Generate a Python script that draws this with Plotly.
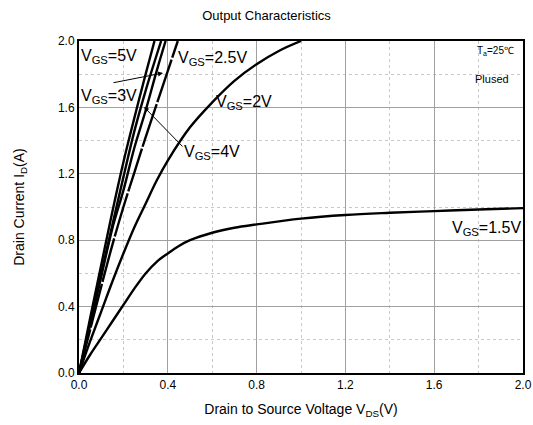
import plotly.graph_objects as go

# Data (VDS in V, ID in A)
v_5 = [0, 0.05, 0.1, 0.15, 0.2, 0.25, 0.3, 0.34]
i_5 = [0, 0.33, 0.65, 0.97, 1.27, 1.54, 1.80, 2.0]

v_4 = [0, 0.05, 0.1, 0.15, 0.2, 0.25, 0.3, 0.37]
i_4 = [0, 0.30, 0.60, 0.89, 1.18, 1.46, 1.70, 2.0]

v_3 = [0, 0.05, 0.1, 0.15, 0.2, 0.25, 0.3, 0.35, 0.39]
i_3 = [0, 0.29, 0.58, 0.87, 1.10, 1.36, 1.58, 1.82, 2.0]

v_25 = [0, 0.05, 0.1, 0.15, 0.2, 0.25, 0.3, 0.35, 0.4, 0.445]
i_25 = [0, 0.26, 0.52, 0.77, 1.0, 1.21, 1.42, 1.62, 1.82, 2.0]

v_2 = [0, 0.05, 0.1, 0.15, 0.2, 0.25, 0.3, 0.35, 0.4, 0.5, 0.6, 0.7, 0.8, 0.9, 1.0]
i_2 = [0, 0.19, 0.37, 0.55, 0.72, 0.88, 1.02, 1.16, 1.28, 1.48, 1.63, 1.76, 1.86, 1.94, 2.0]

v_15 = [0, 0.05, 0.1, 0.15, 0.2, 0.25, 0.3, 0.35, 0.4, 0.45, 0.5, 0.6, 0.7, 0.8, 1.0, 1.2, 1.4, 1.6, 1.8, 2.0]
i_15 = [0, 0.11, 0.21, 0.31, 0.41, 0.51, 0.60, 0.67, 0.72, 0.765, 0.80, 0.845, 0.875, 0.895, 0.93, 0.952, 0.965, 0.975, 0.985, 0.993]

x_ticks = [0.0, 0.4, 0.8, 1.2, 1.6, 2.0]
y_ticks = [0.0, 0.4, 0.8, 1.2, 1.6, 2.0]

FONT = "Arial, Liberation Sans, sans-serif"

fig = go.Figure()
series = [
    (v_5, i_5, "solid"),
    (v_4, i_4, "solid"),
    (v_3, i_3, "solid"),
    (v_25, i_25, "45px,2px"),
    (v_2, i_2, "solid"),
    (v_15, i_15, "solid"),
]
for vx, iy, dash in series:
    fig.add_trace(go.Scatter(x=vx, y=iy, mode="lines",
                             line=dict(color="black", width=2.4, shape="spline", dash=dash),
                             showlegend=False, hoverinfo="skip"))

def px2v(px):
    return (px - 79) / 444.0 * 2

def py2i(py):
    return (373 - py) / 166.0

annots = []
def lab(px, py, text, size=16, xanchor="left"):
    annots.append(dict(x=px2v(px), y=py2i(py), xref="x", yref="y", text=text,
                       showarrow=False, xanchor=xanchor, yanchor="middle",
                       font=dict(family=FONT, size=size, color="black")))

lab(79, 56, "V<sub>GS</sub>=5V")
lab(79, 96, "V<sub>GS</sub>=3V")
lab(176, 58, "V<sub>GS</sub>=2.5V")
lab(214, 102, "V<sub>GS</sub>=2V")
lab(182, 152, "V<sub>GS</sub>=4V")
lab(523, 228, "V<sub>GS</sub>=1.5V", xanchor="right")
lab(516, 51, "T<sub>a</sub>=25℃", size=10, xanchor="right")
lab(511, 79, "Plused", size=11, xanchor="right")

# arrows
for (tx, ty, hx, hy) in [(112, 83, 163, 73), (184, 148, 144, 107)]:
    annots.append(dict(x=px2v(hx), y=py2i(hy), ax=px2v(tx), ay=py2i(ty),
                       xref="x", yref="y", axref="x", ayref="y", text="",
                       showarrow=True, arrowhead=2, arrowsize=1, arrowwidth=1,
                       arrowcolor="black"))

fig.update_layout(
    width=533, height=425,
    margin=dict(l=79, r=10, t=41, b=52, autoexpand=False),
    paper_bgcolor="white", plot_bgcolor="white",
    title=dict(text="Output Characteristics", x=0.5, xanchor="center",
               y=1 - 15 / 425, yanchor="middle",
               font=dict(family=FONT, size=13, color="black")),
    font=dict(family=FONT, color="black"),
    annotations=annots,
)

fig.update_xaxes(
    range=[0, 2], tickvals=x_ticks, ticktext=[f"{t:.1f}" for t in x_ticks],
    automargin=False,
    showgrid=True, gridcolor="#a0a0a0", gridwidth=1,
    minor=dict(dtick=0.2, tick0=0, showgrid=True, gridcolor="#c8c8c8", griddash="dot", gridwidth=1),
    showline=True, linecolor="black", linewidth=2, mirror=True,
    ticks="", zeroline=False,
    tickfont=dict(family=FONT, size=12, color="black"),
    title=dict(text="Drain to Source Voltage V<sub>DS</sub>(V)", standoff=13,
               font=dict(family=FONT, size=14, color="black")),
)
fig.update_yaxes(
    range=[0, 2], tickvals=y_ticks, ticktext=[f"{t:.1f}" for t in y_ticks],
    automargin=False,
    showgrid=True, gridcolor="#a0a0a0", gridwidth=1,
    minor=dict(dtick=0.2, tick0=0, showgrid=True, gridcolor="#c8c8c8", griddash="dot", gridwidth=1),
    showline=True, linecolor="black", linewidth=2, mirror=True,
    ticks="", zeroline=False,
    tickfont=dict(family=FONT, size=12, color="black"),
    title=dict(text="Drain Current I<sub>D</sub>(A)", standoff=30,
               font=dict(family=FONT, size=14, color="black")),
)

fig.write_html("out.html")
